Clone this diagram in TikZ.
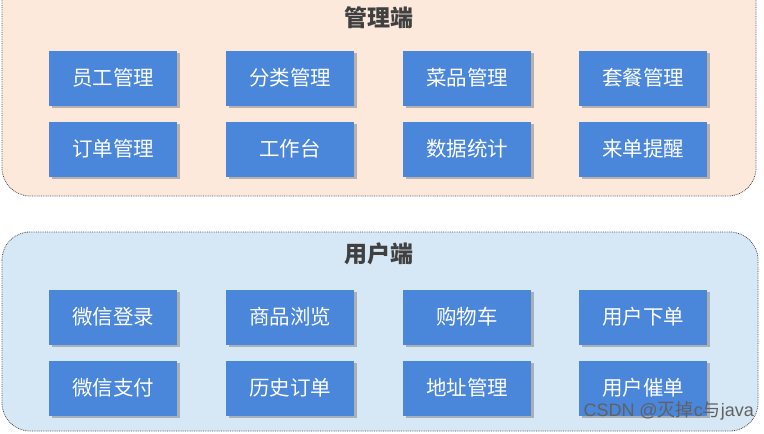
\documentclass[tikz,border=0pt]{standalone}
\usepackage{fontspec}
\setmainfont{Noto Sans CJK SC}
\newfontfamily\wmfont{Liberation Sans}
\newfontfamily\wmcjk{Noto Sans CJK SC}
\usetikzlibrary{shadows}
\definecolor{peach}{HTML}{FCE9DB}
\definecolor{paleblue}{HTML}{D6E8F5}
\definecolor{boxblue}{HTML}{4A86DA}
\definecolor{titlegray}{HTML}{404040}
\tikzset{
  panel/.style={draw=black!70, densely dotted, line width=0.8pt, rounded corners=28pt},
  item/.style={fill=boxblue, draw=none, minimum width=128pt, minimum height=55pt,
    text=white, font=\fontsize{20.5}{24}\selectfont, inner sep=0pt,
    drop shadow={shadow xshift=2.5pt, shadow yshift=-2.5pt, fill=black!45, opacity=0.6}},
  ptitle/.style={text=titlegray, font=\bfseries\fontsize{23}{26}\selectfont},
}
\begin{document}
\begin{tikzpicture}[x=1pt,y=-1pt]
\useasboundingbox (0,0) rectangle (764,434);
\fill[white] (0,0) rectangle (764,434);
% panels
\draw[panel, fill=peach] (2,-30) rectangle (756,196);
\draw[panel, fill=paleblue] (2,232) rectangle (758,431);
\node[ptitle] (t1) at (378.5,18) {管理端};
\node[ptitle] (t2) at (378.5,254) {用户端};
% top boxes
\node[item] (a1) at (113,78) {员工管理};
\node[item] (a2) at (290,78) {分类管理};
\node[item] (a3) at (467,78) {菜品管理};
\node[item] (a4) at (643,78) {套餐管理};
\node[item] (a5) at (113,149) {订单管理};
\node[item] (a6) at (290,149) {工作台};
\node[item] (a7) at (467,149) {数据统计};
\node[item] (a8) at (643,149) {来单提醒};
% bottom boxes
\node[item] (b1) at (113,317) {微信登录};
\node[item] (b2) at (290,317) {商品浏览};
\node[item] (b3) at (467,317) {购物车};
\node[item] (b4) at (643,317) {用户下单};
\node[item] (b5) at (113,388) {微信支付};
\node[item] (b6) at (290,388) {历史订单};
\node[item] (b7) at (467,388) {地址管理};
\node[item] (b8) at (643,388) {用户催单};
\node[text=black!62, font=\wmfont\fontsize{18}{21}\selectfont, anchor=east, inner sep=0pt] (wm) at (754,411) {CSDN @{\wmcjk 灭掉}c{\wmcjk 与}java};
\end{tikzpicture}
\end{document}
